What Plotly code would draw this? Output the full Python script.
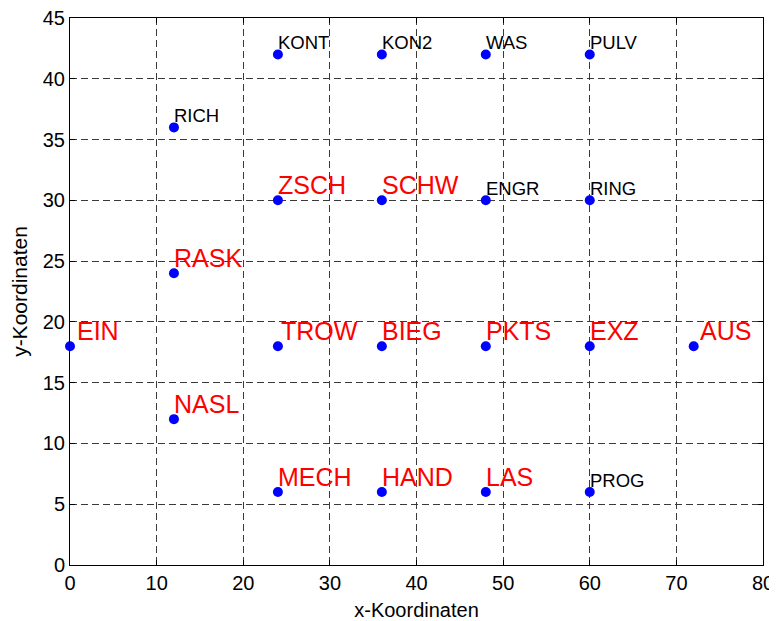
import plotly.graph_objects as go

names = ["EIN", "RASK", "NASL", "RICH", "KONT", "KON2", "WAS", "PULV",
         "ZSCH", "SCHW", "ENGR", "RING", "TROW", "BIEG", "PKTS", "EXZ",
         "AUS", "MECH", "HAND", "LAS", "PROG"]
x_vals = [0, 12, 12, 12, 24, 36, 48, 60,
          24, 36, 48, 60, 24, 36, 48, 60,
          72, 24, 36, 48, 60]
y_vals = [18, 24, 12, 36, 42, 42, 42, 42,
          30, 30, 30, 30, 18, 18, 18, 18,
          18, 6, 6, 6, 6]
highlight = [True, True, True, False, False, False, False, False,
             True, True, False, False, True, True, True, True,
             True, True, True, True, False]

x_ticks = list(range(0, 81, 10))
y_ticks = list(range(0, 46, 5))

FONT = "Liberation Sans, Arial, sans-serif"

# small per-label nudges (pixels) seen in the reference
extra_xshift = {"EIN": 7, "AUS": 6, "TROW": 3}

fig = go.Figure()
fig.add_trace(go.Scatter(
    x=x_vals, y=y_vals, mode="markers",
    marker=dict(color="#0000ff", size=10, line=dict(width=0)),
    showlegend=False, hoverinfo="skip", cliponaxis=False,
))

for n, xv, yv, h in zip(names, x_vals, y_vals, highlight):
    fig.add_annotation(
        x=xv, y=yv, text=n, showarrow=False,
        xanchor="left", yanchor="bottom",
        xshift=-1 + extra_xshift.get(n, 0), yshift=0,
        borderpad=0,
        font=dict(family=FONT, size=25 if h else 18.5,
                  color="#ff0000" if h else "#000000"),
    )

axis_common = dict(
    showline=True, linecolor="black", linewidth=1, mirror="ticks",
    ticks="inside", ticklen=5, tickcolor="black", tickwidth=1,
    showgrid=True, gridcolor="#3a3a3a", griddash="7px,4px", gridwidth=1,
    zeroline=False, automargin=False, ticklabeloverflow="allow",
    tickfont=dict(family=FONT, size=20, color="black"),
)

fig.update_xaxes(range=[0, 80], tickvals=x_ticks,
                 title=dict(text="x-Koordinaten", standoff=10,
                            font=dict(family=FONT, size=20, color="black")),
                 **axis_common)
fig.update_yaxes(range=[0, 45], tickvals=y_ticks,
                 title=dict(text="y-Koordinaten", standoff=12,
                            font=dict(family=FONT, size=21, color="black")),
                 **axis_common)

fig.update_layout(
    width=769, height=613,
    margin=dict(l=62, r=14, t=10, b=56, pad=0),
    paper_bgcolor="white", plot_bgcolor="white",
    font=dict(family=FONT),
)

fig.write_html("out.html")
